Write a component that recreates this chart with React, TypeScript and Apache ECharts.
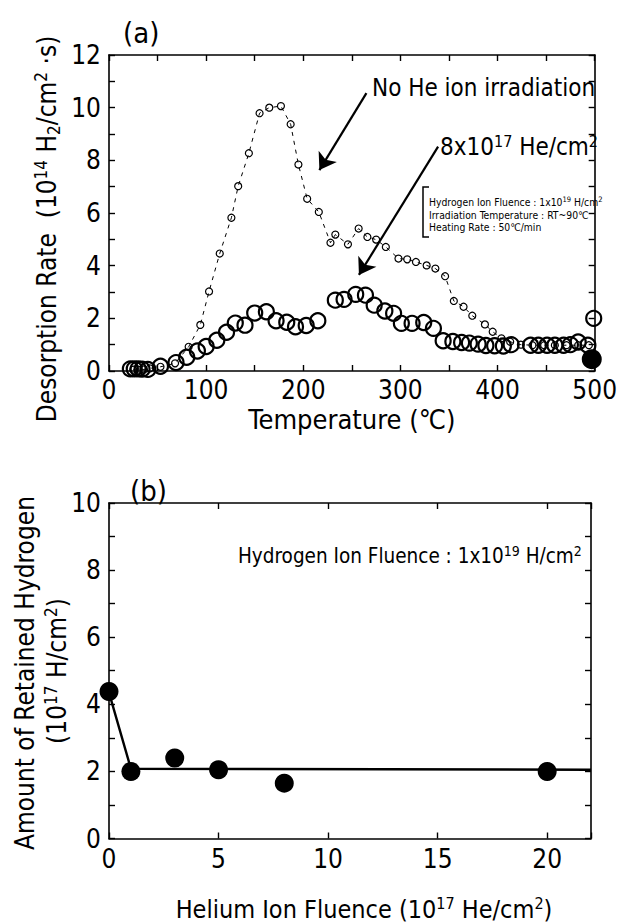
import React, { useEffect, useRef } from 'react';
import * as echarts from 'echarts';

const FONT = "'Liberation Sans Narrow', 'DejaVu Sans Condensed', 'Roboto Condensed', 'Liberation Sans', 'Noto Sans CJK JP', sans-serif";

// ---- (a) thermal desorption spectra ----
const noHeTemp = [25, 30, 36, 42, 53, 68, 82, 94, 103, 114, 126, 133, 144, 155, 165, 177, 187, 195, 204, 216, 228, 233, 246, 257, 266, 275, 285, 298, 307, 316, 327, 336, 346, 355, 365, 374, 387, 395, 404, 413, 424, 436, 448, 459, 471, 483, 494];
const noHeRate = [0.05, 0.05, 0.06, 0.1, 0.16, 0.29, 0.92, 1.75, 3.02, 4.46, 5.82, 7.02, 8.27, 9.79, 10.0, 10.06, 9.37, 7.84, 6.54, 6.04, 4.87, 5.18, 4.81, 5.41, 5.09, 4.99, 4.71, 4.27, 4.24, 4.14, 4.01, 3.89, 3.6, 2.66, 2.44, 2.1, 1.77, 1.49, 1.24, 1.11, 1.0, 0.98, 0.98, 0.98, 0.98, 0.98, 0.98];
const he8Temp = [22, 26, 30, 34, 40, 53, 69, 80, 91, 100, 111, 121, 130, 140, 150, 162, 172, 183, 192, 203, 215, 233, 242, 254, 264, 273, 284, 293, 301, 312, 324, 334, 344, 354, 363, 371, 380, 388, 397, 406, 414, 434, 442, 451, 459, 468, 475, 483, 493];
const he8Rate = [0.08, 0.08, 0.08, 0.07, 0.06, 0.18, 0.32, 0.52, 0.76, 0.93, 1.17, 1.47, 1.82, 1.74, 2.2, 2.25, 1.91, 1.85, 1.68, 1.73, 1.91, 2.69, 2.72, 2.91, 2.88, 2.5, 2.28, 2.19, 1.81, 1.81, 1.84, 1.62, 1.15, 1.12, 1.08, 1.06, 1.02, 0.97, 0.96, 0.95, 1.0, 0.98, 0.98, 0.98, 0.98, 0.98, 1.0, 1.1, 0.98];
const edgeOpenTemp = [499];
const edgeOpenRate = [2.0];
const edgeFilledTemp = [497];
const edgeFilledRate = [0.45];
const tempLabels = [0, 100, 200, 300, 400, 500];
const rateLabels = [0, 2, 4, 6, 8, 10, 12];

// arrows (data coordinates)
const arrowNoHe = [[265, 10.55], [216.6, 7.63]];
const arrowHe8 = [[338.8, 8.52], [257.3, 3.65]];

// ---- (b) retained hydrogen ----
const heFluence = [0, 1, 3, 5, 8, 20];
const retained = [4.38, 2.0, 2.4, 2.05, 1.65, 2.0];
const trendFluence = [0, 1, 22];
const trendRetained = [4.35, 2.08, 2.05];
const fluenceLabels = [0, 5, 10, 15, 20];
const retainedLabels = [0, 2, 4, 6, 8, 10];

const zip = (a: number[], b: number[]) => a.map((v, i) => [v, b[i]]);

const BLACK = '#000';

function axisBase(extra: any) {
  return {
    type: 'value',
    axisLine: { show: true, onZero: false, lineStyle: { color: BLACK, width: 1.6 } },
    axisTick: { show: true, inside: true, length: 6, lineStyle: { color: BLACK, width: 1.4 } },
    splitLine: { show: false },
    ...extra,
  };
}

const labelStyle = (list: number[], margin: number) => ({
  show: true,
  color: BLACK,
  fontFamily: FONT,
  fontSize: 26,
  margin,
  showMinLabel: true,
  showMaxLabel: true,
  formatter: (v: number) => (list.includes(v) ? String(v) : ''),
});

const txt = (align: string) => ({ fill: BLACK, align, verticalAlign: 'middle', textAlign: align, textVerticalAlign: 'middle' });

export default function App() {
  const ref = useRef<HTMLDivElement>(null);
  useEffect(() => {
    document.body.style.margin = '0';
    const chart = echarts.init(ref.current!, null, { renderer: 'svg' });
    const richOf = (fs: number, sfs: number, lh: number) => ({
      t: { fontSize: fs, fontFamily: FONT, color: BLACK, fill: BLACK, lineHeight: lh },
      sup: { fontSize: sfs, fontFamily: FONT, color: BLACK, fill: BLACK, lineHeight: sfs, verticalAlign: 'top' },
      sub: { fontSize: sfs, fontFamily: FONT, color: BLACK, fill: BLACK, lineHeight: sfs, verticalAlign: 'bottom' },
    });
    const option: any = {
      animation: false,
      backgroundColor: '#fff',
      grid: [
        { left: 109, top: 55, right: 20, bottom: 552 },
        { left: 109, top: 503, right: 29, bottom: 82 },
      ],
      xAxis: [
        axisBase({
          gridIndex: 0, position: 'bottom', min: 0, max: 500, interval: 50,
          axisLabel: labelStyle(tempLabels, 6),
          name: 'Temperature (℃)', nameLocation: 'middle', nameGap: 35,
          nameTextStyle: { color: BLACK, fontFamily: FONT, fontSize: 27 },
        }),
        axisBase({ gridIndex: 0, position: 'top', min: 0, max: 500, interval: 50, axisLabel: { show: false } }),
        axisBase({
          gridIndex: 1, position: 'bottom', min: 0, max: 22, interval: 5,
          axisLabel: labelStyle(fluenceLabels, 7),
          name: '{t|Helium Ion Fluence (10}{sup|17}{t| He/cm}{sup|2}{t|)}', nameLocation: 'middle', nameGap: 57,
          nameTextStyle: { color: BLACK, fontFamily: FONT, fontSize: 25, padding: [0, 0, 0, 28], rich: richOf(25, 16, 28) },
        }),
        axisBase({ gridIndex: 1, position: 'top', min: 0, max: 22, interval: 5, axisLabel: { show: false } }),
      ],
      yAxis: [
        axisBase({ gridIndex: 0, position: 'left', min: 0, max: 12, interval: 1, axisLabel: labelStyle(rateLabels, 8) }),
        axisBase({ gridIndex: 0, position: 'right', min: 0, max: 12, interval: 1, axisLabel: { show: false } }),
        axisBase({ gridIndex: 1, position: 'left', min: 0, max: 10, interval: 1, axisLabel: labelStyle(retainedLabels, 8) }),
        axisBase({ gridIndex: 1, position: 'right', min: 0, max: 10, interval: 1, axisLabel: { show: false } }),
      ],
      series: [
        {
          name: 'No He ion irradiation',
          type: 'line',
          xAxisIndex: 0, yAxisIndex: 0,
          data: zip(noHeTemp, noHeRate),
          symbol: 'circle',
          symbolSize: 7,
          itemStyle: { color: 'rgba(0,0,0,0)', borderColor: BLACK, borderWidth: 1.2, opacity: 1 },
          lineStyle: { color: BLACK, width: 1, type: [4, 5] },
          markLine: {
            silent: true,
            symbol: ['none', 'arrow'],
            symbolSize: 16,
            label: { show: false },
            lineStyle: { color: BLACK, width: 2.2, type: 'solid' },
            data: [
              [{ coord: arrowNoHe[0] }, { coord: arrowNoHe[1] }],
              [{ coord: arrowHe8[0] }, { coord: arrowHe8[1] }],
            ],
          },
        },
        {
          name: '8x10^17 He/cm^2',
          type: 'scatter',
          xAxisIndex: 0, yAxisIndex: 0,
          data: zip(he8Temp, he8Rate),
          symbol: 'circle',
          symbolSize: 15,
          itemStyle: { color: 'rgba(0,0,0,0)', borderColor: BLACK, borderWidth: 2.2, opacity: 1 },
        },
        {
          type: 'scatter',
          xAxisIndex: 0, yAxisIndex: 0,
          data: zip(edgeOpenTemp, edgeOpenRate),
          symbol: 'circle',
          symbolSize: 15,
          itemStyle: { color: 'rgba(0,0,0,0)', borderColor: BLACK, borderWidth: 2.2, opacity: 1 },
        },
        {
          type: 'scatter',
          xAxisIndex: 0, yAxisIndex: 0,
          data: zip(edgeFilledTemp, edgeFilledRate),
          symbol: 'circle',
          symbolSize: 20,
          itemStyle: { color: BLACK, opacity: 1 },
        },
        {
          type: 'line',
          xAxisIndex: 2, yAxisIndex: 2,
          data: zip(trendFluence, trendRetained),
          showSymbol: false,
          symbol: 'none',
          lineStyle: { color: BLACK, width: 2.4 },
        },
        {
          name: 'Retained hydrogen',
          type: 'scatter',
          xAxisIndex: 2, yAxisIndex: 2,
          data: zip(heFluence, retained),
          symbol: 'circle',
          symbolSize: 19,
          itemStyle: { color: BLACK, opacity: 1 },
          z: 5,
        },
      ],
      graphic: [
        { type: 'text', x: 123, y: 33, style: { text: '(a)', fontSize: 29, fontFamily: FONT, ...txt('left') } },
        { type: 'text', x: 130, y: 491, style: { text: '(b)', fontSize: 29, fontFamily: FONT, ...txt('left') } },
        {
          type: 'text', x: 47, y: 229, rotation: Math.PI / 2,
          style: {
            text: '{t|Desorption Rate  (10}{sup|14}{t| H}{sub|2}{t|/cm}{sup|2}{t| ·s)}',
            rich: richOf(26, 17, 30), ...txt('center'),
          },
        },
        {
          type: 'text', x: 25, y: 673, rotation: Math.PI / 2,
          style: { text: 'Amount of Retained Hydrogen', fontSize: 26, fontFamily: FONT, ...txt('center') },
        },
        {
          type: 'text', x: 57, y: 671, rotation: Math.PI / 2,
          style: { text: '{t|(10}{sup|17}{t| H/cm}{sup|2}{t|)}', rich: richOf(26, 17, 30), ...txt('center') },
        },
        { type: 'text', x: 372, y: 88, style: { text: 'No He ion irradiation', fontSize: 24, fontFamily: FONT, ...txt('left') } },
        {
          type: 'text', x: 440, y: 147,
          style: { text: '{t|8x10}{sup|17}{t| He/cm}{sup|2}', rich: richOf(24, 16, 28), ...txt('left') },
        },
        {
          type: 'polyline',
          shape: { points: [[429, 187], [423, 187], [423, 237], [429, 237]] },
          style: { stroke: BLACK, lineWidth: 1.5, fill: null },
        },
        {
          type: 'text', x: 429, y: 202,
          style: {
            text: '{t|Hydrogen Ion Fluence : 1x10}{sup|19}{t| H/cm}{sup|2}',
            rich: richOf(10.3, 7.5, 12), ...txt('left'),
          },
        },
        { type: 'text', x: 429, y: 214.5, style: { text: 'Irradiation Temperature : RT~90℃', fontSize: 10.3, fontFamily: FONT, ...txt('left') } },
        { type: 'text', x: 429, y: 227, style: { text: 'Heating Rate : 50℃/min', fontSize: 10.3, fontFamily: FONT, ...txt('left') } },
        {
          type: 'text', x: 238, y: 556,
          style: {
            text: '{t|Hydrogen Ion Fluence : 1x10}{sup|19}{t| H/cm}{sup|2}',
            rich: richOf(20.5, 14, 24), ...txt('left'),
          },
        },
      ],
    };
    chart.setOption(option);
    return () => chart.dispose();
  }, []);
  return <div ref={ref} style={{ width: 620, height: 923 }} />;
}
